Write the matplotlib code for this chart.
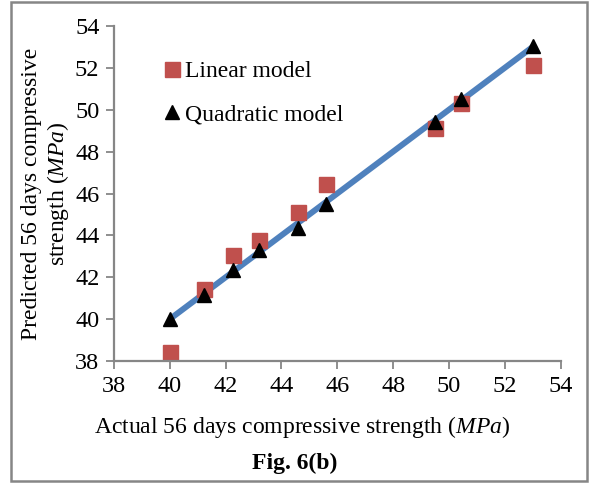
import matplotlib
matplotlib.use('Agg')
import matplotlib.pyplot as plt
from matplotlib.lines import Line2D
from matplotlib.patches import Rectangle

plt.rcParams['font.family'] = ['Liberation Serif', 'DejaVu Serif']
plt.rcParams['mathtext.fontset'] = 'custom'
plt.rcParams['mathtext.rm'] = 'Liberation Serif'
plt.rcParams['mathtext.it'] = 'Liberation Serif:italic'

# actual vs predicted 56 days compressive strength (MPa)
actual = [40.0, 41.24, 42.25, 43.19, 44.58, 45.59, 49.51, 50.44, 53.0]
linear_pred = [38.43, 41.46, 43.05, 43.80, 45.12, 46.43, 49.15, 50.33, 52.16]
quad_pred = [40.0, 41.14, 42.37, 43.32, 44.37, 45.52, 49.42, 50.51, 53.04]
ticks = [38, 40, 42, 44, 46, 48, 50, 52, 54]

GRAY = '#868686'
RED = '#C0504D'
BLUE = '#4F81BD'
FS = 17

W, H = 589, 484
fig = plt.figure(figsize=(W / 100, H / 100), dpi=100)
ax = fig.add_axes([114 / W, 1 - 361 / H, (560.5 - 114) / W, (361 - 26) / H])

# 1:1 line through the actual values
ax.plot([min(actual), max(actual)], [min(actual), max(actual)], color=BLUE, lw=4.3,
        solid_capstyle='butt', zorder=1)
ax.plot(actual, linear_pred, 's', color=RED, ms=10.8, mec=RED, zorder=2)
ax.plot(actual, quad_pred, '^', color='black', ms=10.5, zorder=3)

ax.set_xlim(38, 54)
ax.set_ylim(38, 54)
ax.set_xticks(ticks)
ax.set_yticks(ticks)
ax.tick_params(direction='out', length=5.5, width=1.3, color=GRAY,
               labelsize=17.5, pad=5)
for s in ['top', 'right']:
    ax.spines[s].set_visible(False)
for s in ['left', 'bottom']:
    ax.spines[s].set_color(GRAY)
    ax.spines[s].set_linewidth(1.6)

handles = [Line2D([], [], ls='none', marker='s', color=RED, ms=10.8),
           Line2D([], [], ls='none', marker='^', color='black', ms=10.5)]
fig.legend(handles, ['Linear model', 'Quadratic model'], loc='center left',
           bbox_to_anchor=(163 / W, 1 - 93 / H), frameon=False, fontsize=FS,
           handlelength=0.8, handletextpad=0.15, labelspacing=0.95,
           borderpad=0, borderaxespad=0)

fig.text(46 / W, 1 - 194 / H, 'Predicted 56 days compressive\nstrength ($MPa$)',
         rotation=90, ha='center', va='center', fontsize=FS, linespacing=1.15)
fig.text(302 / W, 1 - 427 / H, 'Actual 56 days compressive strength ($MPa$)',
         ha='center', va='center', fontsize=FS)
fig.text(295 / W, 1 - 463 / H, 'Fig. 6(b)', ha='center', va='center',
         fontsize=FS, fontweight='bold')

# outer frame
fig.patches.append(Rectangle((11 / W, 1 - 481 / H), (587 - 11) / W, (481 - 1.5) / H,
                             transform=fig.transFigure, fill=False,
                             edgecolor=GRAY, lw=1.8))

fig.savefig('out.png', dpi=100)
